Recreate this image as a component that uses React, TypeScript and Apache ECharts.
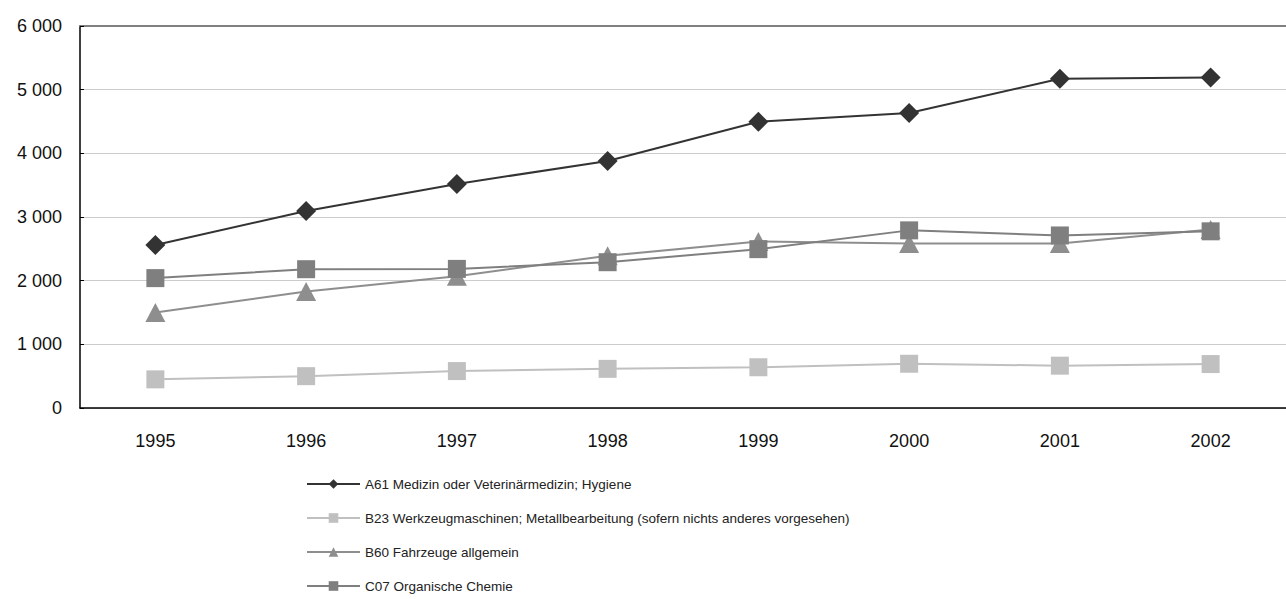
import React, { useEffect, useRef } from "react";
import * as echarts from "echarts";

const years = ["1995", "1996", "1997", "1998", "1999", "2000", "2001", "2002"];
const a61 = [2560, 3095, 3520, 3880, 4495, 4635, 5170, 5190];
const b23 = [450, 500, 580, 615, 640, 695, 665, 690];
const b60 = [1500, 1830, 2070, 2390, 2615, 2585, 2585, 2805];
const c07 = [2040, 2180, 2185, 2290, 2495, 2790, 2710, 2775];
const seriesNames = [
  "A61 Medizin oder Veterinärmedizin; Hygiene",
  "B23 Werkzeugmaschinen; Metallbearbeitung (sofern nichts anderes vorgesehen)",
  "B60 Fahrzeuge allgemein",
  "C07 Organische Chemie",
];

const fmt = (v: number) => {
  const s = String(Math.round(v));
  return s.replace(/\B(?=(\d{3})+(?!\d))/g, " ");
};

export default function App() {
  const ref = useRef<HTMLDivElement>(null);
  useEffect(() => {
    document.body.style.margin = "0";
    const chart = echarts.init(ref.current!, null, { renderer: "svg" });
    const font = "'Liberation Sans', Arial, sans-serif";
    chart.setOption({
      animation: false,
      backgroundColor: "#ffffff",
      textStyle: { fontFamily: font },
      grid: { left: 80, top: 26, right: -9, bottom: 191, containLabel: false },
      legend: {
        orient: "vertical",
        left: 301,
        top: 472,
        itemWidth: 53,
        itemHeight: 12,
        itemGap: 20,
        textStyle: { fontSize: 13.5, color: "#222", fontFamily: font },
        data: seriesNames,
      },
      xAxis: [
        {
          type: "category",
          data: years,
          boundaryGap: true,
          axisLine: { lineStyle: { color: "#000", width: 1.5 } },
          axisTick: { inside: true, length: 6, lineStyle: { color: "#000" } },
          axisLabel: { fontSize: 18, color: "#111", margin: 24, fontFamily: font },
        },
        {
          type: "category",
          data: years,
          position: "top",
          axisLine: { lineStyle: { color: "#808080", width: 2 } },
          axisTick: { show: false },
          axisLabel: { show: false },
        },
      ],
      yAxis: {
        type: "value",
        min: 0,
        max: 6000,
        interval: 1000,
        axisLine: { show: true, lineStyle: { color: "#000", width: 1.5 } },
        axisTick: { show: true, inside: true, length: 4, lineStyle: { color: "#000" } },
        axisLabel: { fontSize: 18, color: "#111", margin: 18, formatter: fmt, fontFamily: font },
        splitLine: { lineStyle: { color: "#cccccc", width: 1 } },
      },
      series: [
        {
          name: seriesNames[0],
          type: "line",
          data: a61,
          symbol: "diamond",
          symbolSize: 20,
          color: "#333333",
          lineStyle: { color: "#333333", width: 2 },
          itemStyle: { color: "#333333" },
        },
        {
          name: seriesNames[1],
          type: "line",
          data: b23,
          symbol: "rect",
          symbolSize: 18,
          color: "#c0c0c0",
          lineStyle: { color: "#c0c0c0", width: 2 },
          itemStyle: { color: "#c0c0c0" },
        },
        {
          name: seriesNames[2],
          type: "line",
          data: b60,
          symbol: "triangle",
          symbolSize: [20, 19],
          color: "#8e8e8e",
          lineStyle: { color: "#8e8e8e", width: 2 },
          itemStyle: { color: "#8e8e8e" },
        },
        {
          name: seriesNames[3],
          type: "line",
          data: c07,
          symbol: "rect",
          symbolSize: 18,
          color: "#7f7f7f",
          lineStyle: { color: "#7f7f7f", width: 2 },
          itemStyle: { color: "#7f7f7f" },
        },
      ],
    });
    return () => chart.dispose();
  }, []);
  return <div ref={ref} style={{ width: 1286, height: 599 }} />;
}
